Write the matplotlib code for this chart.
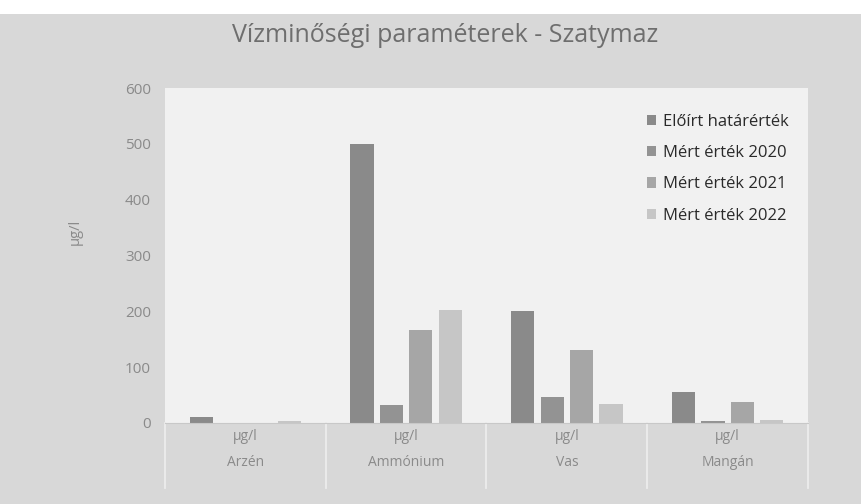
import matplotlib.pyplot as plt
import numpy as np
from matplotlib.patches import Rectangle

categories = ["Arzén", "Ammónium", "Vas", "Mangán"]
units = ["µg/l", "µg/l", "µg/l", "µg/l"]
series_names = ["Előírt határérték", "Mért érték 2020", "Mért érték 2021", "Mért érték 2022"]
hatarertek = [10, 500, 200, 55]
mert_2020 = [0, 32, 47, 4]
mert_2021 = [0, 167, 131, 38]
mert_2022 = [3, 202, 34, 6]
colors = ["#8a8a8a", "#939393", "#a6a6a6", "#c6c6c6"]

plt.rcParams['font.family'] = ['Open Sans', 'DejaVu Sans']

fig = plt.figure(figsize=(8.62, 5.04), dpi=100)
fig.patch.set_facecolor("#d8d8d8")
# white strip on top of the scanned chart
fig.patches.append(Rectangle((0, 1 - 14 / 504), 1, 14 / 504, transform=fig.transFigure,
                             facecolor="white", edgecolor="none", zorder=0))

ax = fig.add_axes([165 / 862, 1 - 423 / 504, 643 / 862, 335 / 504])
ax.set_facecolor("#f1f1f1")

x = np.arange(len(categories))
step = 0.183
width = 0.145
for i, (vals, name) in enumerate(zip([hatarertek, mert_2020, mert_2021, mert_2022], series_names)):
    ax.bar(x + (i - 1.5) * step, vals, width, color=colors[i], label=name, zorder=2)

ax.set_xlim(-0.5, 3.5)
ax.set_ylim(0, 600)
ax.set_yticks(range(0, 601, 100))
ax.tick_params(axis="y", length=0, colors="#8a8a8a", labelsize=11, pad=10)
ax.set_xticks([])
for s in ["top", "right", "left"]:
    ax.spines[s].set_visible(False)
ax.spines["bottom"].set_color("#c8c8c8")

ax.set_ylabel("µg/l", color="#8a8a8a", fontsize=10.5)
ax.yaxis.set_label_coords(-0.128, 0.57)

# two-level category axis
box_h = 65 / 335
for b in np.arange(-0.5, 4.0, 1.0):
    ax.plot([b, b], [0, -box_h], transform=ax.get_xaxis_transform(), color="#ececec",
            lw=1.3, clip_on=False)
for xi, (u, c) in enumerate(zip(units, categories)):
    ax.text(xi, -14 / 335, u, transform=ax.get_xaxis_transform(), ha="center", va="center",
            color="#8a8a8a", fontsize=10)
    ax.text(xi, -39 / 335, c, transform=ax.get_xaxis_transform(), ha="center", va="center",
            color="#8a8a8a", fontsize=10)

fig.text(445 / 862, 1 - 36 / 504, "Vízminőségi paraméterek - Szatymaz", ha="center", va="center",
         color="#6e6e6e", fontsize=18)

leg = ax.legend(loc="upper right", bbox_to_anchor=(0.993, 0.968), frameon=False, fontsize=12,
                handlelength=0.55, handleheight=0.55, handletextpad=0.4, labelspacing=0.92,
                labelcolor="#2a2a2a")

plt.savefig("out.png", dpi=100, facecolor=fig.get_facecolor())
